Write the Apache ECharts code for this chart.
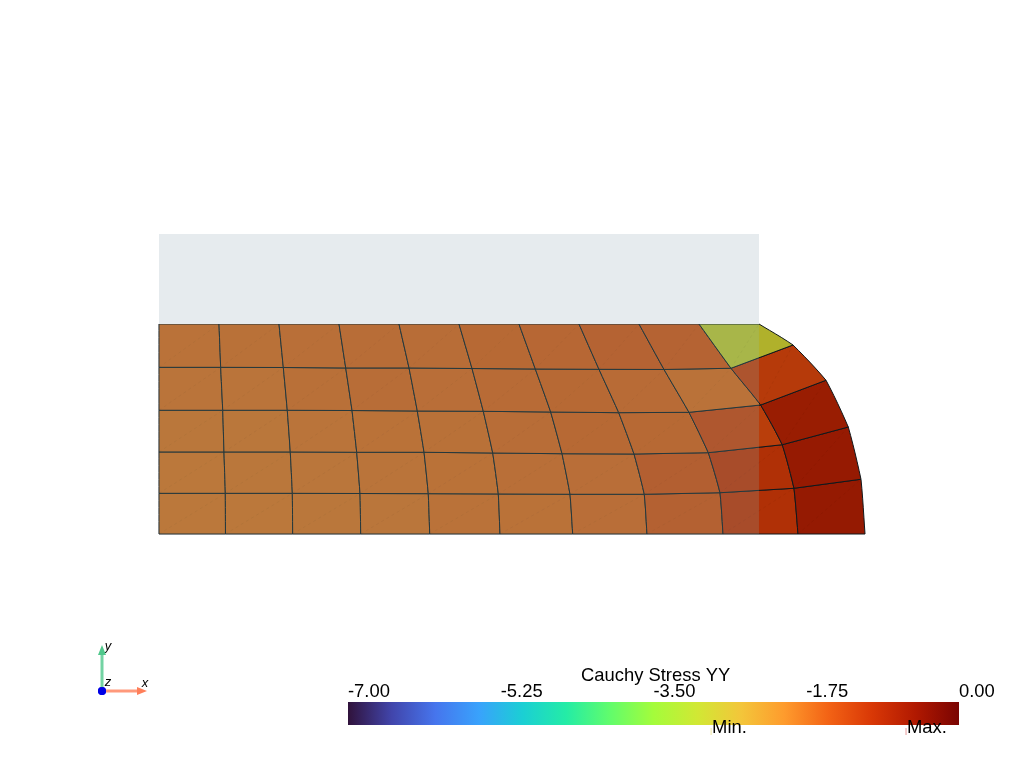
<!DOCTYPE html>
<html>
<head>
<meta charset="utf-8">
<style>html,body{margin:0;background:#fff}#chart{width:1024px;height:768px}</style>
<script src="https://cdn.jsdelivr.net/npm/echarts@6/dist/echarts.min.js"></script>
</head>
<body>
<div id="chart"></div>
<script>
// mesh nodes, row 0 is the bottom edge, column 10 is the free surface on the right
const nodeX = [
  [0, 1.108, 2.228, 3.362, 4.512, 5.683, 6.895, 8.133, 9.4, 10.65, 11.767],
  [0, 1.105, 2.222, 3.35, 4.488, 5.655, 6.85, 8.088, 9.35, 10.583, 11.7],
  [0, 1.083, 2.188, 3.295, 4.417, 5.562, 6.717, 7.917, 9.155, 10.388, 11.488],
  [0, 1.062, 2.138, 3.217, 4.305, 5.405, 6.528, 7.662, 8.833, 10.028, 11.117],
  [0, 1.028, 2.072, 3.112, 4.167, 5.217, 6.272, 7.333, 8.417, 9.533, 10.567],
  [0, 1, 2, 3, 4, 5, 6, 7, 8, 9, 10]
]
const nodeY = [
  [0, 0, 0, 0, 0, 0, 0, 0, 0, 0, 0],
  [0.678, 0.678, 0.678, 0.675, 0.672, 0.667, 0.662, 0.662, 0.688, 0.762, 0.912],
  [1.367, 1.367, 1.367, 1.362, 1.362, 1.35, 1.338, 1.333, 1.355, 1.488, 1.783],
  [2.062, 2.062, 2.062, 2.058, 2.05, 2.045, 2.033, 2.022, 2.028, 2.15, 2.562],
  [2.778, 2.778, 2.775, 2.767, 2.767, 2.758, 2.75, 2.745, 2.742, 2.762, 3.15],
  [3.5, 3.5, 3.5, 3.5, 3.5, 3.5, 3.5, 3.5, 3.5, 3.5, 3.5]
]
// Cauchy stress YY per cell, same row order
const cellStress = [
  [-1.75, -1.75, -1.74, -1.72, -1.68, -1.66, -1.62, -1.42, -1.05, -0.61],
  [-1.75, -1.74, -1.72, -1.7, -1.66, -1.63, -1.62, -1.38, -1.05, -0.62],
  [-1.74, -1.73, -1.7, -1.66, -1.65, -1.6, -1.55, -1.55, -1.26, -0.68],
  [-1.7, -1.7, -1.64, -1.6, -1.62, -1.58, -1.55, -1.58, -1.68, -1.2],
  [-1.68, -1.65, -1.63, -1.6, -1.6, -1.55, -1.52, -1.45, -1.45, -2.84]
]
// rigid plate: x0, x1, y0, y1
const plateSolid = [0, 10, 3.5, 5]
const plateOver = [0, 10, 0, 3.5]

const scaleTicks = 1.75
const scaleMin = -7
const scaleMax = 0
const markers = [
  { name: 'Min.', value: -2.84 },
  { name: 'Max.', value: -0.607 }
]
const turbo = ['#30123b', '#4145ab', '#4675ed', '#39a2fc', '#1bcfd4', '#24eca6', '#61fc6c', '#a4fc3b',
  '#d1e834', '#f3c63a', '#fe9b2d', '#f36315', '#d93806', '#b11901', '#7a0402']

const triadOrigin = [-0.95, -2.617]
const triadX = [-0.2, -2.617]
const triadY = [-0.95, -1.85]

const FONT = '"Liberation Sans", Arial, sans-serif'
const LABEL_SIZE = 18.4
const EDGE_BEND = 0.35

const cellData = []
cellStress.forEach((row, j) => row.forEach((v, i) => cellData.push([i, j, v])))

// the mesh is lit, so colours come out darker than the scale
const shade = (color, k) => {
  const c = echarts.color.parse(color)
  return `rgb(${Math.round(c[0] * k)},${Math.round(c[1] * k)},${Math.round(c[2] * k)})`
}

// elements are quadratic: the edges running up a column bend a little through the nodes
const columnEdge = (api, i, j) => {
  const node = r => {
    const row = Math.max(0, Math.min(5, r))
    return api.coord([nodeX[row][i], nodeY[row][i]])
  }
  const [p0, p1, p2, p3] = [node(j - 1), node(j), node(j + 1), node(j + 2)]
  const pts = []
  for (let s = 0; s <= 6; s++) {
    const t = s / 6
    pts.push([0, 1].map(d => {
      const curve = 0.5 * (2 * p1[d] + (p2[d] - p0[d]) * t +
        (2 * p0[d] - 5 * p1[d] + 4 * p2[d] - p3[d]) * t * t +
        (3 * p1[d] - p0[d] - 3 * p2[d] + p3[d]) * t * t * t)
      const chord = p1[d] + (p2[d] - p1[d]) * t
      return chord + (curve - chord) * EDGE_BEND
    }))
  }
  return pts
}

const renderCell = (params, api) => {
  const i = api.value(0)
  const j = api.value(1)
  const left = columnEdge(api, i, j)
  const right = columnEdge(api, i + 1, j)
  const outline = [...right, ...left.slice().reverse()]
  return {
    type: 'group',
    children: [
      {
        type: 'polygon',
        shape: { points: outline },
        style: { fill: shade(api.visual('color'), 0.8), stroke: '#10181c', lineWidth: 1 }
      },
      {
        type: 'line',
        shape: { x1: left[0][0], y1: left[0][1], x2: right[6][0], y2: right[6][1] },
        style: { stroke: 'rgba(0,0,0,0.05)', lineWidth: 1, lineDash: [3, 3] }
      }
    ]
  }
}

const renderBox = (params, api) => {
  const a = api.coord([api.value(0), api.value(3)])
  const b = api.coord([api.value(1), api.value(2)])
  return {
    type: 'rect',
    shape: { x: a[0], y: a[1], width: b[0] - a[0], height: b[1] - a[1] },
    style: { fill: api.value(4) ? 'rgba(135,203,208,0.18)' : '#e6ebee' }
  }
}

const renderArrow = (params, api) => {
  const start = api.coord(triadOrigin)
  const tip = api.coord(params.dataIndex === 0 ? triadX : triadY)
  const color = params.dataIndex === 0 ? '#ff7f5a' : '#50c88c'
  const dx = Math.sign(tip[0] - start[0])
  const dy = Math.sign(tip[1] - start[1])
  const base = [tip[0] - dx * 10, tip[1] - dy * 10]
  return {
    type: 'group',
    children: [
      {
        type: 'line',
        shape: { x1: start[0], y1: start[1], x2: base[0], y2: base[1] },
        style: { stroke: color, lineWidth: 3, opacity: 0.8 }
      },
      {
        type: 'polygon',
        shape: { points: [tip, [base[0] - dy * 4, base[1] - dx * 4], [base[0] + dy * 4, base[1] + dx * 4]] },
        style: { fill: color }
      },
      { type: 'circle', shape: { cx: start[0], cy: start[1], r: 4 }, style: { fill: '#0000e6' } }
    ]
  }
}

const triadLabel = (text, pos) => ({
  type: 'text',
  x: pos[0],
  y: pos[1],
  style: { text, font: `italic 13px ${FONT}`, fill: '#000', align: 'center', verticalAlign: 'middle' }
})

const chart = echarts.init(document.getElementById('chart'))
chart.setOption({
  animation: false,
  backgroundColor: '#fff',
  title: {
    text: 'Cauchy Stress YY',
    left: 581,
    top: 667,
    padding: 0,
    textStyle: { fontFamily: FONT, fontSize: LABEL_SIZE, fontWeight: 'normal', color: '#000' }
  },
  grid: [
    { left: 0, right: 0, top: 0, bottom: 0 },
    { left: 348, width: 611, top: 702, height: 23 }
  ],
  xAxis: [
    { gridIndex: 0, type: 'value', min: -2.65, max: 14.4167, show: false },
    {
      gridIndex: 1,
      type: 'value',
      position: 'top',
      min: scaleMin,
      max: scaleMax,
      interval: scaleTicks,
      axisLine: { show: false },
      axisTick: { show: false },
      splitLine: { show: false },
      axisLabel: {
        align: 'left',
        margin: 1,
        fontFamily: FONT,
        fontSize: LABEL_SIZE,
        color: '#000',
        showMinLabel: true,
        showMaxLabel: true,
        formatter: v => v.toFixed(2)
      }
    }
  ],
  yAxis: [
    { gridIndex: 0, type: 'value', min: -3.9, max: 8.9, show: false },
    { gridIndex: 1, type: 'value', min: 0, max: 1, show: false }
  ],
  visualMap: {
    show: false,
    seriesIndex: 0,
    dimension: 2,
    min: scaleMin,
    max: scaleMax,
    inRange: { color: turbo }
  },
  series: [
    {
      type: 'custom',
      silent: true,
      xAxisIndex: 0,
      yAxisIndex: 0,
      encode: { x: 0, y: 1 },
      renderItem: renderCell,
      data: cellData,
      z: 2
    },
    {
      // plate in front of the mesh, see-through where they overlap
      type: 'custom',
      silent: true,
      xAxisIndex: 0,
      yAxisIndex: 0,
      encode: { x: [0, 1], y: [2, 3] },
      renderItem: renderBox,
      data: [[...plateSolid, 0], [...plateOver, 1]],
      z: 3
    },
    {
      type: 'custom',
      silent: true,
      xAxisIndex: 0,
      yAxisIndex: 0,
      encode: { x: 0, y: 1 },
      renderItem: renderArrow,
      data: [triadX, triadY],
      z: 4
    },
    {
      // colour bar
      type: 'custom',
      silent: true,
      xAxisIndex: 1,
      yAxisIndex: 1,
      encode: { x: [0, 1] },
      renderItem: (params, api) => {
        const a = api.coord([api.value(0), 1])
        const b = api.coord([api.value(1), 0])
        return {
          type: 'rect',
          shape: { x: a[0], y: a[1], width: b[0] - a[0], height: b[1] - a[1] },
          style: {
            fill: new echarts.graphic.LinearGradient(0, 0, 1, 0,
              turbo.map((color, k) => ({ offset: k / (turbo.length - 1), color })))
          }
        }
      },
      data: [[scaleMin, scaleMax]],
      z: 2
    },
    {
      // Min. / Max. annotations under the bar
      type: 'custom',
      silent: true,
      xAxisIndex: 1,
      yAxisIndex: 1,
      encode: { x: 0 },
      renderItem: (params, api) => {
        const p = api.coord([api.value(0), 0])
        return {
          type: 'group',
          children: [
            {
              type: 'line',
              shape: { x1: p[0], y1: p[1] + 3, x2: p[0], y2: p[1] + 10 },
              style: { stroke: params.dataIndex === 0 ? '#f0e6a0' : '#e89a9a', lineWidth: 1 }
            },
            {
              type: 'text',
              x: p[0] + 1,
              y: p[1] + 3,
              style: {
                text: markers[params.dataIndex].name,
                font: `${LABEL_SIZE}px ${FONT}`,
                fill: '#000',
                align: 'left',
                verticalAlign: 'middle'
              }
            }
          ]
        }
      },
      data: markers.map(m => [m.value]),
      z: 5
    }
  ],
  graphic: []
})

// axis letters sit next to the arrow tips
const at = (p, ox, oy) => {
  const c = chart.convertToPixel({ gridIndex: 0 }, p)
  return [c[0] + ox, c[1] + oy]
}
chart.setOption({
  graphic: [
    triadLabel('x', at(triadX, -2, -8)),
    triadLabel('y', at(triadY, 6, 1)),
    triadLabel('z', at(triadOrigin, 6, -9))
  ]
})
</script>
</body>
</html>
